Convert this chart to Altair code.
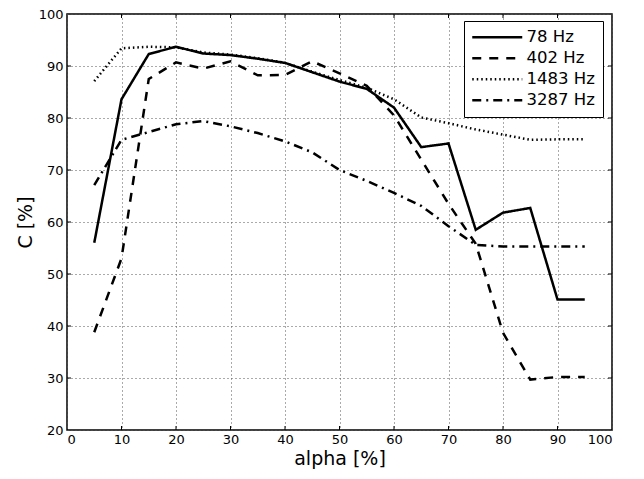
import altair as alt
import pandas as pd

# ---- data ----
alpha = [5, 10, 15, 20, 25, 30, 35, 40, 45, 50, 55, 60, 65, 70, 75, 80, 85, 90, 95]
c_78 = [56.0, 83.6, 92.3, 93.7, 92.4, 92.1, 91.4, 90.6, 88.8, 87.0, 85.6, 82.0, 74.4, 75.1, 58.5, 61.8, 62.7, 45.1, 45.1]
c_402 = [38.8, 53.0, 87.5, 90.7, 89.5, 90.9, 88.2, 88.3, 90.9, 88.6, 86.2, 80.5, 72.0, 63.5, 55.8, 38.7, 29.7, 30.2, 30.2]
c_1483 = [87.1, 93.4, 93.7, 93.6, 92.6, 92.2, 91.5, 90.6, 88.9, 87.3, 85.8, 83.6, 80.1, 79.0, 77.8, 76.8, 75.8, 75.9, 75.9]
c_3287 = [67.1, 75.8, 77.3, 78.8, 79.4, 78.4, 77.1, 75.5, 73.4, 70.0, 67.9, 65.6, 63.1, 59.2, 55.6, 55.3, 55.3, 55.3, 55.3]
series_names = ["78 Hz", "402 Hz", "1483 Hz", "3287 Hz"]
x_ticks = [0, 10, 20, 30, 40, 50, 60, 70, 80, 90, 100]
y_ticks = [20, 30, 40, 50, 60, 70, 80, 90, 100]

rows = []
for name, vals in zip(series_names, [c_78, c_402, c_1483, c_3287]):
    for a, c in zip(alpha, vals):
        rows.append({"alpha": a, "C": c, "series": name})
df = pd.DataFrame(rows)

W, H = 545, 416
FONT = "DejaVu Sans"
x_scale = alt.Scale(domain=[0, 100], nice=False, zero=False)
y_scale = alt.Scale(domain=[20, 100], nice=False, zero=False)
x_axis = alt.Axis(values=x_ticks, title="alpha [%]", grid=True, ticks=False, domain=False,
                  labelPadding=3, titlePadding=3)
y_axis = alt.Axis(values=y_ticks, title="C [%]", grid=True, ticks=False, domain=False,
                  labelPadding=4, titlePadding=3)

lines = alt.Chart(df).mark_line(color="black", strokeCap="butt", strokeJoin="miter").encode(
    x=alt.X("alpha:Q", scale=x_scale, axis=x_axis),
    y=alt.Y("C:Q", scale=y_scale, axis=y_axis),
    strokeDash=alt.StrokeDash(
        "series:N", sort=series_names,
        scale=alt.Scale(domain=series_names, range=[[1, 0], [9, 8], [1.5, 3], [9, 5, 2, 5]]),
        legend=alt.Legend(title=None, orient="none", legendX=397, legendY=7,
                          strokeColor="black", fillColor="white", padding=8,
                          labelFontSize=16.5, labelFont=FONT, labelColor="black",
                          symbolType="M-5,0H5", symbolSize=100, symbolStrokeWidth=2.5,
                          symbolOffset=17, symbolFillColor="transparent",
                          symbolStrokeColor="black", rowPadding=4, labelOffset=21),
    ),
    strokeWidth=alt.StrokeWidth(
        "series:N", scale=alt.Scale(domain=series_names, range=[2.5, 2.5, 1.5, 2.5]), legend=None),
)

xt = pd.DataFrame({"alpha": x_ticks[1:-1]})
yt = pd.DataFrame({"C": y_ticks[1:-1]})
tick_len = 4
top_ticks = alt.Chart(xt).mark_rule(color="black", strokeWidth=1).encode(
    x=alt.X("alpha:Q", scale=x_scale, axis=x_axis), y=alt.value(0), y2=alt.value(tick_len))
bottom_ticks = alt.Chart(xt).mark_rule(color="black", strokeWidth=1).encode(
    x=alt.X("alpha:Q", scale=x_scale, axis=x_axis), y=alt.value(H), y2=alt.value(H - tick_len))
left_ticks = alt.Chart(yt).mark_rule(color="black", strokeWidth=1).encode(
    y=alt.Y("C:Q", scale=y_scale, axis=y_axis), x=alt.value(0), x2=alt.value(tick_len))
right_ticks = alt.Chart(yt).mark_rule(color="black", strokeWidth=1).encode(
    y=alt.Y("C:Q", scale=y_scale, axis=y_axis), x=alt.value(W), x2=alt.value(W - tick_len))

chart = alt.layer(lines, top_ticks, bottom_ticks, left_ticks, right_ticks).properties(
    width=W, height=H,
    autosize=alt.AutoSizeParams(type="none"),
    padding={"left": 59, "top": 6, "right": 24, "bottom": 41},
).configure_view(
    stroke="black", strokeWidth=1.5, fill="white"
).configure_axis(
    labelFont=FONT, titleFont=FONT, labelFontSize=13, titleFontSize=19,
    titleFontWeight="normal", labelColor="black", titleColor="black",
    gridColor="#555555", gridDash=[1, 3], gridWidth=1, gridOpacity=1,
)

chart.save("out.html", embed_options={"renderer": "svg", "actions": False})
